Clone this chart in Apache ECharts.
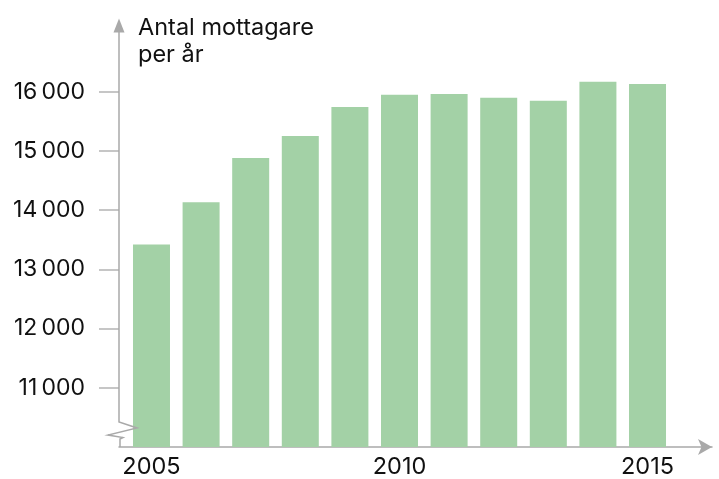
<!DOCTYPE html>
<html>
<head>
<meta charset="utf-8">
<script src="https://cdn.jsdelivr.net/npm/echarts@6/dist/echarts.min.js"></script>
<style>
  html, body { margin: 0; padding: 0; background: #fff; }
  #main { width: 719px; height: 479px; }
</style>
</head>
<body>
<div id="main"></div>
<script>
	// data
	var years = [2005, 2006, 2007, 2008, 2009, 2010, 2011, 2012, 2013, 2014, 2015];
	var receivers = [13420, 14130, 14880, 15250, 15740, 15945, 15960, 15895, 15845, 16165, 16130];
	var yearLabels = [2005, 2010, 2015];
	var valueTicks = [11000, 12000, 13000, 14000, 15000, 16000];

	var axisGrey = '#a9a9a9';
	var textColor = '#111111';
	var font = 'Inter, "Liberation Sans", sans-serif';

	var option = {
		animation: false,
		title: {
			text: 'Antal mottagare\nper år',
			left: 133,
			top: 9,
			textStyle: {
				color: textColor,
				fontFamily: font,
				fontWeight: 'normal',
				fontSize: 23.5,
				lineHeight: 27
			}
		},
		grid: {
			left: 119,
			right: 7,
			top: 20.5,
			bottom: 31.3
		},
		xAxis: {
			type: 'value',
			min: 2004.345,
			max: 2016.3,
			splitLine: { show: false },
			axisLine: {
				show: true,
				symbol: ['none', 'arrow'],
				symbolSize: [12, 14],
				lineStyle: { color: axisGrey, width: 1.5 }
			},
			axisTick: { show: false },
			axisLabel: {
				customValues: yearLabels,
				margin: 8,
				color: textColor,
				fontFamily: font,
				fontSize: 23.5,
				formatter: function(v) { return String(v); }
			}
		},
		yAxis: {
			type: 'value',
			min: 10000,
			max: 17200,
			splitLine: { show: false },
			axisLine: { show: false },
			axisTick: {
				show: true,
				customValues: valueTicks,
				length: 20,
				lineStyle: { color: '#b4b4b4', width: 1.5 }
			},
			axisLabel: {
				customValues: valueTicks,
				margin: 34,
				color: textColor,
				fontFamily: font,
				fontSize: 23,
				formatter: function(v) {
					return String(v / 1000) + '\u2009000';
				}
			}
		},
		series: [{
			type: 'bar',
			barWidth: 37,
			itemStyle: { color: '#a3d1a6' },
			data: years.map(function(y, i) { return [y, receivers[i]]; })
		}]
	};

	var myChart = echarts.init(document.getElementById('main'));
	myChart.setOption(option);

	// y axis line with arrow and the zigzag break at the bottom
	var x0 = myChart.convertToPixel({ gridIndex: 0 }, [2004.345, 10000]);
	var yTop = myChart.convertToPixel({ yAxisIndex: 0 }, 17200);
	var ax = x0[0], ay = x0[1];
	myChart.setOption({
		graphic: [{
			type: 'polyline',
			z: 100,
			shape: {
				points: [
					[ax, yTop + 6],
					[ax, ay - 25],
					[ax + 18, ay - 19],
					[ax - 11, ay - 12],
					[ax + 4, ay - 9.5],
					[ax + 1, ay - 8],
					[ax + 1, ay]
				]
			},
			style: { stroke: axisGrey, lineWidth: 1.5, fill: null }
		}, {
			type: 'polygon',
			z: 100,
			shape: {
				points: [[ax, yTop - 2], [ax - 5.5, yTop + 12], [ax + 5.5, yTop + 12]]
			},
			style: { fill: axisGrey }
		}]
	});
</script>
</body>
</html>
